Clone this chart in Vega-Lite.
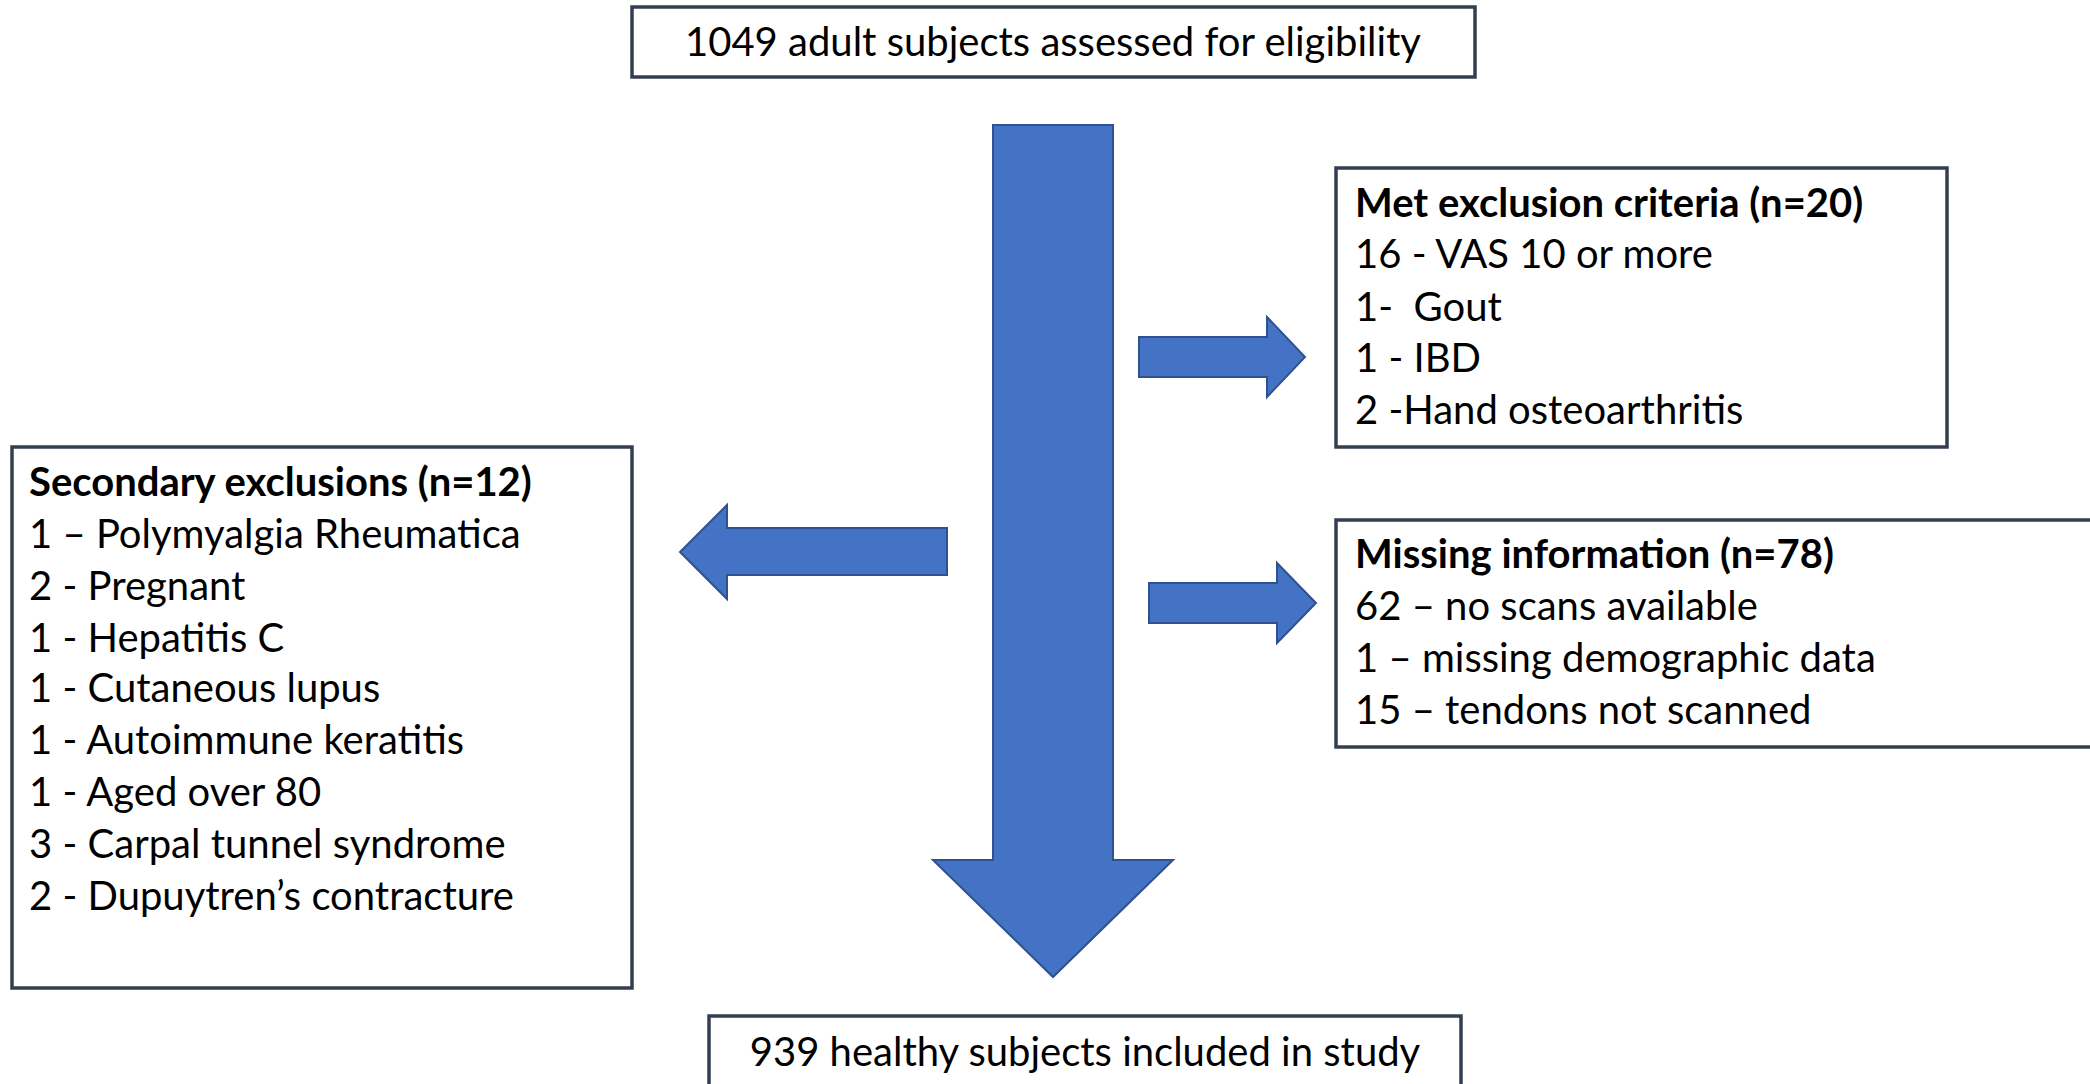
{
  "$schema": "https://vega.github.io/schema/vega-lite/v6.json",
  "width": 2090,
  "height": 1084,
  "autosize": {"type": "fit", "contains": "padding"},
  "padding": 0,
  "background": "white",
  "config": {"view": {"stroke": null}},
  "datasets": {
    "boxes": [
      {"box": "top", "x": 632, "x2": 1475, "y": 7, "y2": 77},
      {"box": "met", "x": 1336, "x2": 1947, "y": 168, "y2": 447},
      {"box": "missing", "x": 1336, "x2": 2110, "y": 520, "y2": 747},
      {"box": "secondary", "x": 12, "x2": 632, "y": 447, "y2": 988},
      {"box": "bottom", "x": 709, "x2": 1461, "y": 1016, "y2": 1100}
    ],
    "arrows": [
      {"arrow": "down", "o": 1, "x": 993, "y": 125},
      {"arrow": "down", "o": 2, "x": 1113, "y": 125},
      {"arrow": "down", "o": 3, "x": 1113, "y": 860},
      {"arrow": "down", "o": 4, "x": 1173, "y": 860},
      {"arrow": "down", "o": 5, "x": 1053, "y": 977},
      {"arrow": "down", "o": 6, "x": 933, "y": 860},
      {"arrow": "down", "o": 7, "x": 993, "y": 860},
      {"arrow": "right1", "o": 1, "x": 1139, "y": 337},
      {"arrow": "right1", "o": 2, "x": 1267, "y": 337},
      {"arrow": "right1", "o": 3, "x": 1267, "y": 317},
      {"arrow": "right1", "o": 4, "x": 1305, "y": 357},
      {"arrow": "right1", "o": 5, "x": 1267, "y": 397},
      {"arrow": "right1", "o": 6, "x": 1267, "y": 377},
      {"arrow": "right1", "o": 7, "x": 1139, "y": 377},
      {"arrow": "right2", "o": 1, "x": 1149, "y": 583},
      {"arrow": "right2", "o": 2, "x": 1277, "y": 583},
      {"arrow": "right2", "o": 3, "x": 1277, "y": 563},
      {"arrow": "right2", "o": 4, "x": 1316, "y": 603},
      {"arrow": "right2", "o": 5, "x": 1277, "y": 643},
      {"arrow": "right2", "o": 6, "x": 1277, "y": 623},
      {"arrow": "right2", "o": 7, "x": 1149, "y": 623},
      {"arrow": "left", "o": 1, "x": 947, "y": 528},
      {"arrow": "left", "o": 2, "x": 727, "y": 528},
      {"arrow": "left", "o": 3, "x": 727, "y": 505},
      {"arrow": "left", "o": 4, "x": 680, "y": 552},
      {"arrow": "left", "o": 5, "x": 727, "y": 599},
      {"arrow": "left", "o": 6, "x": 727, "y": 575},
      {"arrow": "left", "o": 7, "x": 947, "y": 575}
    ],
    "centered": [
      {"x": 1053, "y": 44, "text": "1049 adult subjects assessed for eligibility"},
      {"x": 1085, "y": 1054, "text": "939 healthy subjects included in study"}
    ],
    "headers": [
      {"x": 1355, "y": 205, "text": "Met exclusion criteria (n=20)"},
      {"x": 1355, "y": 556, "text": "Missing information (n=78)"},
      {"x": 29, "y": 484, "text": "Secondary exclusions (n=12)"}
    ],
    "lines": [
      {"x": 1355, "y": 256, "text": "16 - VAS 10 or more"},
      {"x": 1355, "y": 309, "text": "1-\u00a0 Gout"},
      {"x": 1355, "y": 360, "text": "1 - IBD"},
      {"x": 1355, "y": 412, "text": "2 -Hand osteoarthritis"},
      {"x": 1355, "y": 608, "text": "62 – no scans available"},
      {"x": 1355, "y": 660, "text": "1 – missing demographic data"},
      {"x": 1355, "y": 712, "text": "15 – tendons not scanned"},
      {"x": 29, "y": 536, "text": "1 – Polymyalgia Rheumatica"},
      {"x": 29, "y": 588, "text": "2 - Pregnant"},
      {"x": 29, "y": 640, "text": "1 - Hepatitis C"},
      {"x": 29, "y": 690, "text": "1 - Cutaneous lupus"},
      {"x": 29, "y": 742, "text": "1 - Autoimmune keratitis"},
      {"x": 29, "y": 794, "text": "1 - Aged over 80"},
      {"x": 29, "y": 846, "text": "3 - Carpal tunnel syndrome"},
      {"x": 29, "y": 898, "text": "2 - Dupuytren’s contracture"}
    ]
  },
  "layer": [
    {
      "data": {"name": "boxes"},
      "mark": {"type": "rect", "fill": "white", "stroke": "#333F50", "strokeWidth": 3.5, "clip": true},
      "encoding": {
        "x": {"field": "x", "type": "quantitative", "scale": {"domain": [0, 2090]}, "axis": null},
        "x2": {"field": "x2"},
        "y": {"field": "y", "type": "quantitative", "scale": {"domain": [0, 1084], "reverse": true}, "axis": null},
        "y2": {"field": "y2"}
      }
    },
    {
      "data": {"name": "arrows"},
      "mark": {"type": "line", "interpolate": "linear-closed", "fill": "#4472C4", "stroke": "#2F528F", "strokeWidth": 2},
      "encoding": {
        "x": {"field": "x", "type": "quantitative", "scale": {"domain": [0, 2090]}, "axis": null},
        "y": {"field": "y", "type": "quantitative", "scale": {"domain": [0, 1084], "reverse": true}, "axis": null},
        "detail": {"field": "arrow"},
        "order": {"field": "o", "type": "quantitative"}
      }
    },
    {
      "data": {"name": "centered"},
      "mark": {"type": "text", "font": "Lato", "fontSize": 40, "align": "center", "baseline": "middle", "color": "black"},
      "encoding": {
        "x": {"field": "x", "type": "quantitative", "scale": {"domain": [0, 2090]}, "axis": null},
        "y": {"field": "y", "type": "quantitative", "scale": {"domain": [0, 1084], "reverse": true}, "axis": null},
        "text": {"field": "text"}
      }
    },
    {
      "data": {"name": "headers"},
      "mark": {"type": "text", "font": "Lato", "fontSize": 40, "fontWeight": "bold", "align": "left", "baseline": "middle", "color": "black"},
      "encoding": {
        "x": {"field": "x", "type": "quantitative", "scale": {"domain": [0, 2090]}, "axis": null},
        "y": {"field": "y", "type": "quantitative", "scale": {"domain": [0, 1084], "reverse": true}, "axis": null},
        "text": {"field": "text"}
      }
    },
    {
      "data": {"name": "lines"},
      "mark": {"type": "text", "font": "Lato", "fontSize": 40, "align": "left", "baseline": "middle", "color": "black"},
      "encoding": {
        "x": {"field": "x", "type": "quantitative", "scale": {"domain": [0, 2090]}, "axis": null},
        "y": {"field": "y", "type": "quantitative", "scale": {"domain": [0, 1084], "reverse": true}, "axis": null},
        "text": {"field": "text"}
      }
    }
  ]
}
